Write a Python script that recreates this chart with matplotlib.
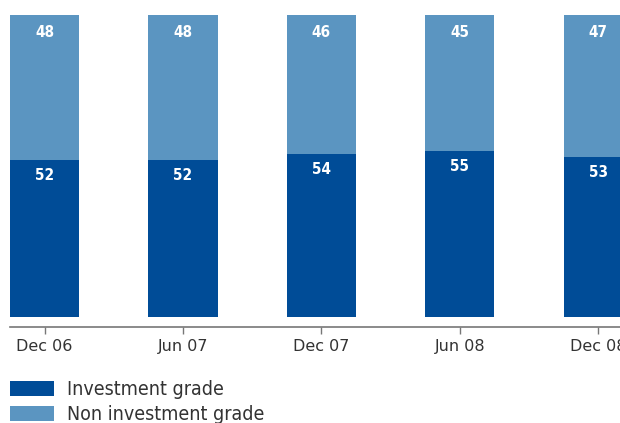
import numpy as np
import matplotlib
matplotlib.use("Agg")
import matplotlib.pyplot as plt
from matplotlib.patches import Patch

# data
periods = ["Dec 06", "Jun 07", "Dec 07", "Jun 08", "Dec 08"]
investment = [52, 52, 54, 55, 53]
non_investment = [48, 48, 46, 45, 47]

dark_blue = "#004c97"
light_blue = "#5b95c1"
text_grey = "#333333"

fig = plt.figure(figsize=(6.2, 4.23), dpi=100)
# axes spans from the axis line (y=326.5px) to the top of the bars (y=15px)
ax = fig.add_axes([10 / 620, 1 - 326.5 / 423, 1 - 10 / 620, (326.5 - 15) / 423])

x = np.arange(len(periods))
w = 0.5
ax.bar(x, investment, w, color=dark_blue, edgecolor="none")
ax.bar(x, non_investment, w, bottom=investment, color=light_blue, edgecolor="none")

# value labels near the top of each segment
for i in range(len(periods)):
    ax.annotate(str(investment[i]), (x[i], investment[i]), xytext=(0, -11.5),
                textcoords="offset points", ha="center", va="center",
                color="white", fontsize=11, fontweight="bold", fontstretch="condensed")
    top = investment[i] + non_investment[i]
    ax.annotate(str(non_investment[i]), (x[i], top), xytext=(0, -12.3),
                textcoords="offset points", ha="center", va="center",
                color="white", fontsize=11, fontweight="bold", fontstretch="condensed")

ax.set_xlim(-0.25, 4.157)
ax.set_ylim(-3.15, 100)
for s in ["top", "right", "left"]:
    ax.spines[s].set_visible(False)
ax.spines["bottom"].set_color("#777777")
ax.spines["bottom"].set_linewidth(1.2)
ax.set_yticks([])
ax.set_xticks(x)
ax.set_xticklabels(periods)
ax.tick_params(axis="x", length=5, width=1, color="#777777", pad=4,
               labelsize=11.5, labelcolor=text_grey)

handles = [Patch(facecolor=dark_blue, edgecolor="none"),
           Patch(facecolor=light_blue, edgecolor="none")]
fig.legend(handles, ["Investment grade", "Non investment grade"],
           loc="upper left", bbox_to_anchor=(10 / 620, 1 - 380 / 423),
           frameon=False, prop={"size": 14, "stretch": "condensed"},
           handlelength=2.25, handleheight=0.8,
           handletextpad=0.7, labelspacing=0.3, borderaxespad=0, borderpad=0,
           labelcolor=text_grey)

fig.savefig("out.png", dpi=100)
